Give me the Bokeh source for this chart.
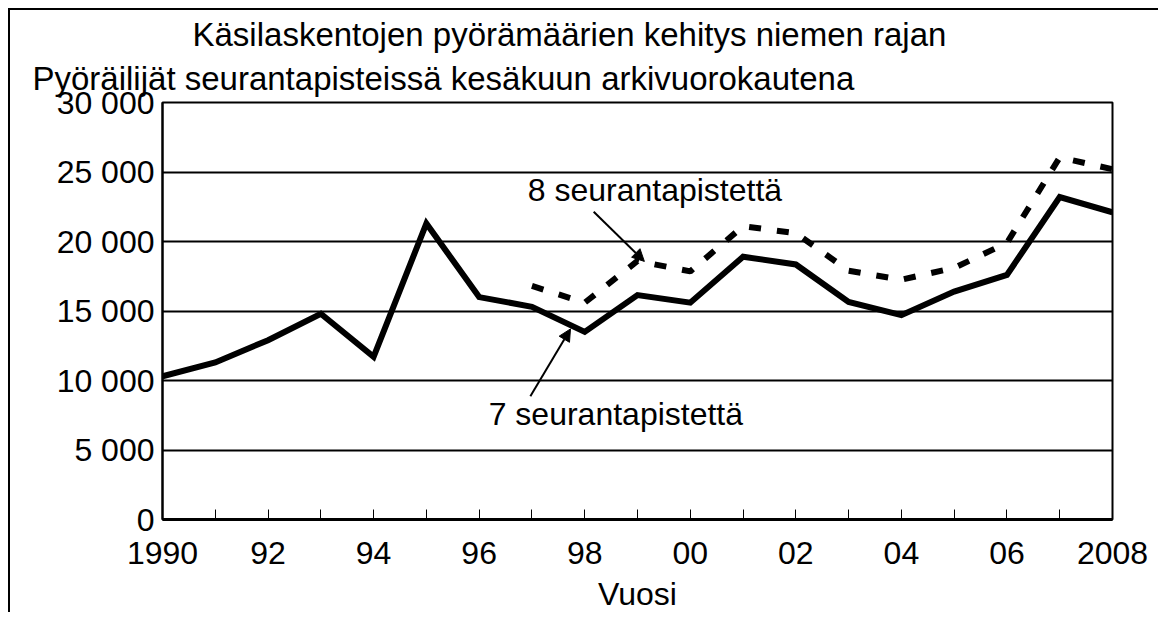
from bokeh.plotting import figure
from bokeh.models import Range1d, FixedTicker, Label, Arrow, NormalHead, ColumnDataSource, Title
from bokeh.embed import file_html
from bokeh.resources import INLINE

# ---- data ----
years7 = list(range(1990, 2009))
riders7 = [10300, 11300, 12900, 14800, 11700, 21300, 16000, 15300, 13500, 16150,
           15600, 18900, 18350, 15650, 14700, 16400, 17600, 23200, 22100]
years8 = list(range(1997, 2009))
riders8 = [16800, 15600, 18600, 17850, 21100, 20600, 17900, 17250, 18100, 19900, 26050, 25200]

x_ticks = list(range(1990, 2009))
x_tick_labels = ["1990", "", "92", "", "94", "", "96", "", "98", "", "00", "", "02", "",
                 "04", "", "06", "", "2008"]
y_ticks = [0, 5000, 10000, 15000, 20000, 25000, 30000]
y_tick_labels = ["0", "5 000", "10 000", "15 000", "20 000", "25 000", "30 000"]

title_lines = ["Käsilaskentojen pyörämäärien kehitys niemen rajan",
               "seurantapisteissä kesäkuun arkivuorokautena"]
y_title = "Pyöräilijät"
x_title = "Vuosi"
label8 = "8 seurantapistettä"
label7 = "7 seurantapistettä"

FONT = "Liberation Sans"
FS = "32px"
FS_T = "33px"

p = figure(width=1150, height=604, output_backend="svg", toolbar_location=None,
           x_range=Range1d(1990, 2008), y_range=Range1d(0, 30000),
           min_border_left=152, min_border_top=92, min_border_right=48, min_border_bottom=92)
p.styles = {"border-left": "2px solid black", "border-top": "2px solid black",
            "margin-left": "8px", "margin-top": "8px"}
p.title.visible = False
p.background_fill_color = "white"
p.border_fill_color = "white"
p.outline_line_color = "black"
p.outline_line_width = 2

p.xgrid.visible = False
p.ygrid.grid_line_color = "black"
p.ygrid.grid_line_width = 2
p.ygrid.ticker = FixedTicker(ticks=y_ticks)

xa = p.xaxis[0]
xa.ticker = FixedTicker(ticks=x_ticks)
xa.major_label_overrides = {t: l for t, l in zip(x_ticks, x_tick_labels)}
xa.major_tick_in = 10
xa.major_tick_out = 0
xa.major_tick_line_width = 1
xa.minor_tick_line_color = None
xa.axis_line_width = 3
xa.major_label_text_font = FONT
xa.major_label_text_font_size = FS
xa.major_label_text_color = "black"
xa.major_label_standoff = 22
xa.axis_label = x_title
xa.axis_label_text_font = FONT
xa.axis_label_text_font_size = FS
xa.axis_label_text_font_style = "normal"
xa.axis_label_text_color = "black"
xa.axis_label_standoff = 9

ya = p.yaxis[0]
ya.ticker = FixedTicker(ticks=y_ticks)
ya.major_label_overrides = {t: l for t, l in zip(y_ticks, y_tick_labels)}
ya.major_tick_in = 0
ya.major_tick_out = 0
ya.minor_tick_line_color = None
ya.axis_line_width = 2
ya.major_label_text_font = FONT
ya.major_label_text_font_size = FS
ya.major_label_text_color = "black"
ya.major_label_standoff = 8

src7 = ColumnDataSource(dict(x=years7, y=riders7))
src8 = ColumnDataSource(dict(x=years8, y=riders8))
p.line("x", "y", source=src8, line_color="black", line_width=6, line_dash="12 16")
p.line("x", "y", source=src7, line_color="black", line_width=6, line_join="miter")

def ttl(text, offset, standoff):
    t = Title(text=text, align="left", offset=offset, standoff=standoff,
              text_font=FONT, text_font_size=FS_T, text_font_style="normal",
              text_color="black")
    p.add_layout(t, "above")

ttl(y_title + " " + title_lines[1], -130, 11)
ttl(title_lines[0], 30, 0)

def lab(x, y, t):
    p.add_layout(Label(x=x, y=y, text=t, text_font=FONT, text_font_size=FS,
                       text_color="black", text_align="left", text_baseline="middle"))

lab(1996.92, 23700, label8)
lab(1996.18, 7570, label7)

p.add_layout(Arrow(x_start=1998.17, y_start=22140, x_end=1999.13, y_end=18570,
                   line_width=2, line_color="black",
                   end=NormalHead(size=12, fill_color="black", line_color="black")))
p.add_layout(Arrow(x_start=1996.97, y_start=8860, x_end=1997.73, y_end=13710,
                   line_width=2, line_color="black",
                   end=NormalHead(size=12, fill_color="black", line_color="black")))

open("out.html", "w").write(file_html(p, INLINE))
